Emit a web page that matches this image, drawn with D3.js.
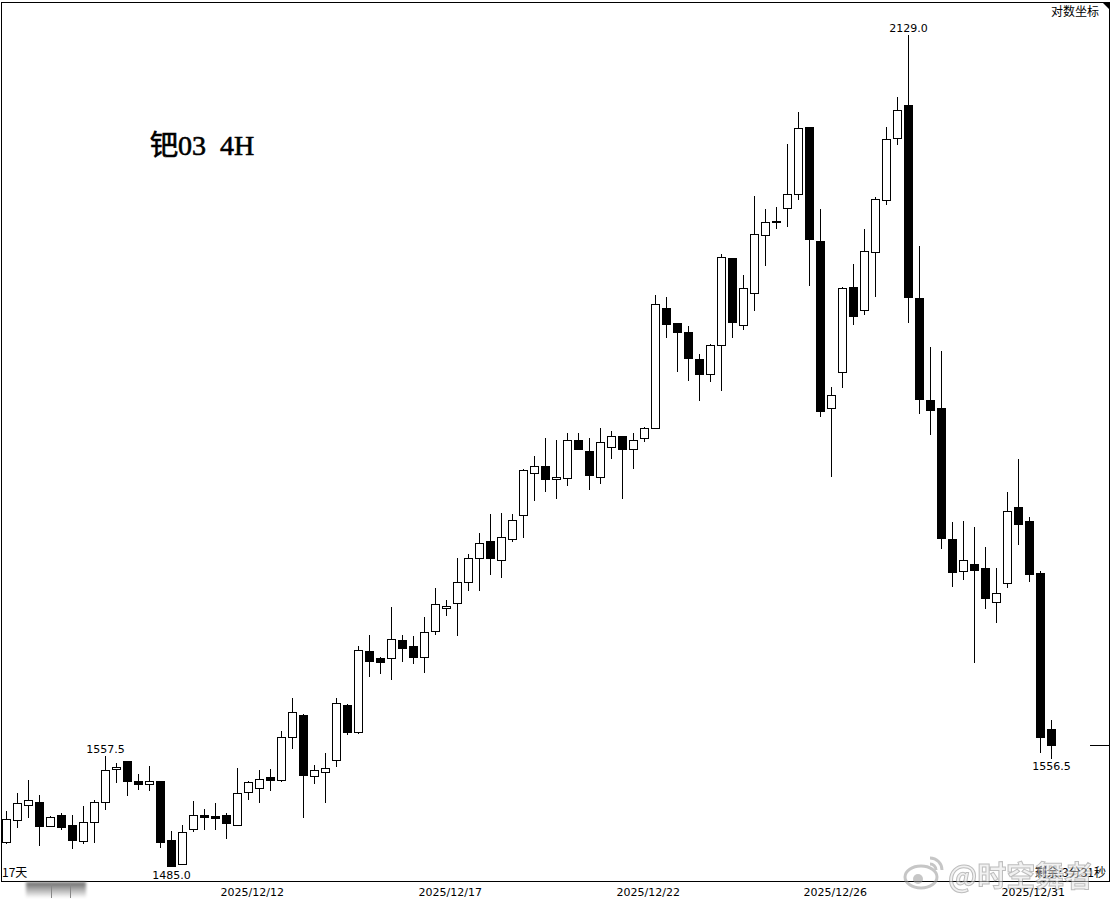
<!DOCTYPE html>
<html lang="zh">
<head>
<meta charset="utf-8">
<title>钯03 4H</title>
<script src="https://d3js.org/d3.v7.min.js"></script>
<style>
    body { margin: 0; background: #fff; }
    svg { display: block; }
    .lbl { font-family: "DejaVu Sans", sans-serif; font-size: 11px; fill: #000; }
    .cjk { font-family: "Noto Sans CJK SC", sans-serif; font-size: 11px; fill: #000; }
</style>
</head>
<body>
<div id="chart"></div>
<script>
    // 4H candles (log price axis)
    var open = [1500.5,1515,1525,1527,1511,1518.5,1511.5,1501,1513.5,1526.5,
        1548.5,1554,1541,1539,1540.5,1502,1486,1509,1518,1517.5,
        1518,1511.5,1533.5,1536,1543.5,1541.5,1570.5,1585.5,1544,1546.5,
        1554.5,1592.5,1573.5,1630,1625,1625,1637.5,1633.5,1625.5,1644,
        1660.5,1664.5,1679.5,1697,1709.5,1696,1711,1729,1760.5,1766.5,
        1756,1757,1786.5,1778,1757.5,1781,1789,1779.5,1787.5,1795.5,
        1891.5,1879,1872,1850,1838,1861,1933,1877.5,1904,1952,
        1963.5,1975,1987,2045.5,1947,1811,1839.5,1909,1889.5,1937.5,
        1982,2036,2065,1899.5,1817.5,1811,1711.5,1687.5,1693,1689.5,
        1665,1678.5,1735,1724.5,1686,1576];
    var high = [1521,1533,1541.5,1531.5,1517.5,1519.5,1518.5,1524,1528,1557.5,
        1552.5,1554,1545.5,1551,1540.5,1508,1511.5,1527.5,1522,1526,
        1519.5,1549.5,1540.5,1548,1549,1574.5,1597.5,1586,1551.5,1559.5,
        1597.5,1593,1633.5,1641.5,1625.5,1661.5,1641.5,1641,1654,1675,
        1666.5,1697,1700,1715.5,1730,1730.5,1730,1763.5,1774,1787.5,
        1786,1792,1792,1787.5,1795.5,1793,1789,1791.5,1796.5,1902,
        1900.5,1879,1877,1854,1862,1936,1933,1918.5,1985.5,1974.5,
        1976,2030.5,2059,2046,1974.5,1828,1909,1928,1957.5,1984.5,
        2046,2072.5,2129,1943,1859.5,1856.5,1724,1724.5,1720,1705.5,
        1689.5,1746.5,1771.5,1727.5,1687.5,1582];
    var low = [1500,1510.5,1517,1498.5,1511,1509,1496.5,1500,1500.5,1522,
        1540,1531.5,1535.5,1534.5,1497,1485,1486,1507.5,1509,1509,
        1503,1511.5,1529,1526.5,1535,1540.5,1563,1517,1539.5,1527,
        1551,1572.5,1573,1612.5,1614.5,1610.5,1623,1621.5,1615,1642,
        1656,1641.5,1673.5,1673.5,1685.5,1683,1710,1713,1740.5,1747.5,
        1742,1751.5,1779,1749,1753.5,1772,1742,1765,1785.5,1795.5,
        1868,1840.5,1833.5,1817.5,1832.5,1825,1868,1874.5,1889.5,1927,
        1958,1960,1982.5,1910.5,1805,1758.5,1828,1878.5,1886.5,1901.5,
        1978.5,2031,1880,1807,1791,1704.5,1676.5,1682,1622,1661,
        1651,1676,1707.5,1680,1560.5,1556.5];
    var close = [1515.5,1526,1528,1511,1517,1510.5,1502,1513.5,1526.5,1548,
        1550,1540.5,1539,1541,1500.5,1485,1507,1518,1517,1516.5,
        1513,1533,1540,1542,1541.5,1570.5,1587.5,1544.5,1548,1549.5,
        1593.5,1574,1630.5,1623,1622,1638.5,1632.5,1626,1643.5,1663.5,
        1662.5,1679.5,1697,1708.5,1697,1713,1725.5,1763,1766.5,1756,
        1757.5,1786,1779,1759,1785,1789.5,1779,1786.5,1795.5,1894.5,
        1878.5,1871.5,1851,1838,1861.5,1934,1880,1908,1953,1963,
        1964,1987,2044.5,1948.5,1808.5,1821,1908,1885,1938.5,1982.5,
        2035,2061,1900.5,1818.5,1809.5,1712,1687,1695.5,1688,1668,
        1671.5,1732,1722.5,1685.5,1570.5,1565];

    // day labels on the time axis (candle index where each day starts)
    var dayIndex = [20, 38, 56, 73, 91];
    var dayLabels = ["2025/12/12", "2025/12/17", "2025/12/22", "2025/12/26", "2025/12/31"];

    // price marks printed next to a candle: [index, "high" | "low"]
    var marks = [[9, "high"], [15, "low"], [82, "high"], [95, "low"]];

    var width = 1113, height = 899;
    var n = open.length;

    var candles = open.map(function(o, i) {
        return {i: i, o: o, h: high[i], l: low[i], c: close[i]};
    });

    var x = d3.scaleLinear().domain([0, n - 1]).range([6, 1051]);
    var y = d3.scaleLog()
        .domain([d3.min(low), d3.max(high)])
        .range([866, 35]);

    var svg = d3.select("#chart").append("svg")
        .attr("width", width)
        .attr("height", height);

    var defs = svg.append("defs");

    // frame
    svg.append("rect")
        .attr("x", 1.5).attr("y", 2.5)
        .attr("width", 1108).attr("height", 879)
        .attr("fill", "#fff").attr("stroke", "#000");
    svg.append("path")
        .attr("d", "M1102,2L1110,2L1110,10Z")
        .attr("fill", "#000");

    svg.append("text")
        .attr("class", "cjk")
        .attr("x", 1099).attr("y", 16)
        .attr("text-anchor", "end")
        .style("font-size", "12px")
        .text("对数坐标");

    // title
    svg.append("text")
        .attr("x", 150).attr("y", 155)
        .style("font-family", "'Liberation Serif', 'Noto Sans CJK SC', serif")
        .style("font-size", "28px")
        .attr("stroke", "#000")
        .attr("stroke-width", 0.6)
        .attr("xml:space", "preserve")
        .text("钯03  4H");

    var px = function(i) { return Math.round(x(i)); };

    // wicks
    svg.append("g")
        .selectAll("line")
        .data(candles)
        .enter().append("line")
        .attr("x1", function(d) { return px(d.i) + 0.5; })
        .attr("x2", function(d) { return px(d.i) + 0.5; })
        .attr("y1", function(d) { return Math.round(y(d.h)); })
        .attr("y2", function(d) { return Math.round(y(d.l)) + 1; })
        .attr("stroke", "#000")
        .attr("stroke-width", 1);

    // bodies
    var up = candles.filter(function(d) { return d.c >= d.o; });
    var down = candles.filter(function(d) { return d.c < d.o; });

    svg.append("g")
        .selectAll("rect")
        .data(up)
        .enter().append("rect")
        .attr("x", function(d) { return px(d.i) - 3.5; })
        .attr("y", function(d) { return Math.round(y(d.c)) + 0.5; })
        .attr("width", 8)
        .attr("height", function(d) { return Math.max(1, Math.round(y(d.o)) - Math.round(y(d.c))); })
        .attr("fill", "#fff")
        .attr("stroke", "#000")
        .attr("stroke-width", 1);

    svg.append("g")
        .selectAll("rect")
        .data(down)
        .enter().append("rect")
        .attr("x", function(d) { return px(d.i) - 4; })
        .attr("y", function(d) { return Math.round(y(d.o)); })
        .attr("width", 9)
        .attr("height", function(d) { return Math.max(2, Math.round(y(d.c)) - Math.round(y(d.o)) + 1); })
        .attr("fill", "#000");

    // high / low marks
    svg.append("g")
        .selectAll("text")
        .data(marks)
        .enter().append("text")
        .attr("class", "lbl")
        .attr("text-anchor", "middle")
        .attr("x", function(m) { return px(m[0]) + 0.5; })
        .attr("y", function(m) {
            return m[1] == "high" ? y(high[m[0]]) - 3 : y(low[m[0]]) + 12.5;
        })
        .text(function(m) {
            return d3.format(".1f")(m[1] == "high" ? high[m[0]] : low[m[0]]);
        });

    // last price tick on the right edge
    var last = Math.round(y(close[n - 1])) + 0.5;
    svg.append("line")
        .attr("x1", 1090).attr("x2", 1109)
        .attr("y1", last).attr("y2", last)
        .attr("stroke", "#000");

    // time axis labels
    svg.append("g")
        .selectAll("text")
        .data(dayIndex)
        .enter().append("text")
        .attr("class", "lbl")
        .attr("x", function(d) { return x(d) - 5.5; })
        .attr("y", 896)
        .text(function(d, k) { return dayLabels[k]; });

    svg.append("text")
        .attr("class", "cjk")
        .attr("x", 2).attr("y", 877)
        .style("font-size", "12px")
        .text("17天");

    svg.append("text")
        .attr("class", "cjk")
        .attr("x", 1106).attr("y", 877)
        .attr("text-anchor", "end")
        .style("font-size", "12px")
        .text("剩余:3分31秒");

    // blurred scroll thumb at the bottom left
    var grad = defs.append("linearGradient")
        .attr("id", "thumb").attr("x1", 0).attr("y1", 0).attr("x2", 0).attr("y2", 1);
    grad.append("stop").attr("offset", "0%").attr("stop-color", "#666");
    grad.append("stop").attr("offset", "100%").attr("stop-color", "#fff");
    defs.append("filter").attr("id", "blur")
        .append("feGaussianBlur").attr("stdDeviation", 1.5);
    svg.append("rect")
        .attr("x", 26).attr("y", 882)
        .attr("width", 60).attr("height", 16)
        .attr("fill", "url(#thumb)")
        .attr("filter", "url(#blur)");
    svg.append("g").selectAll("line")
        .data([51, 70])
        .enter().append("line")
        .attr("x1", function(d) { return d + 0.5; })
        .attr("x2", function(d) { return d + 0.5; })
        .attr("y1", 884).attr("y2", 898)
        .attr("stroke", "#888");

    // watermark
    var wm = svg.append("g").attr("opacity", 0.55);
    wm.append("ellipse")
        .attr("cx", 921).attr("cy", 877).attr("rx", 16).attr("ry", 11)
        .attr("fill", "none").attr("stroke", "#999").attr("stroke-width", 3);
    wm.append("circle")
        .attr("cx", 918).attr("cy", 879).attr("r", 5)
        .attr("fill", "#999");
    wm.append("path")
        .attr("d", "M930,858A12,12 0 0 1 942,870M930,864A6,6 0 0 1 936,870")
        .attr("fill", "none").attr("stroke", "#999").attr("stroke-width", 3);
    wm.append("text")
        .attr("x", 948).attr("y", 887)
        .style("font-family", "'Noto Sans CJK SC', sans-serif")
        .style("font-size", "29px")
        .style("font-weight", "bold")
        .attr("fill", "#e6e6e6")
        .attr("stroke", "#888")
        .attr("stroke-width", 1)
        .text("@时空舞者");
</script>
</body>
</html>
